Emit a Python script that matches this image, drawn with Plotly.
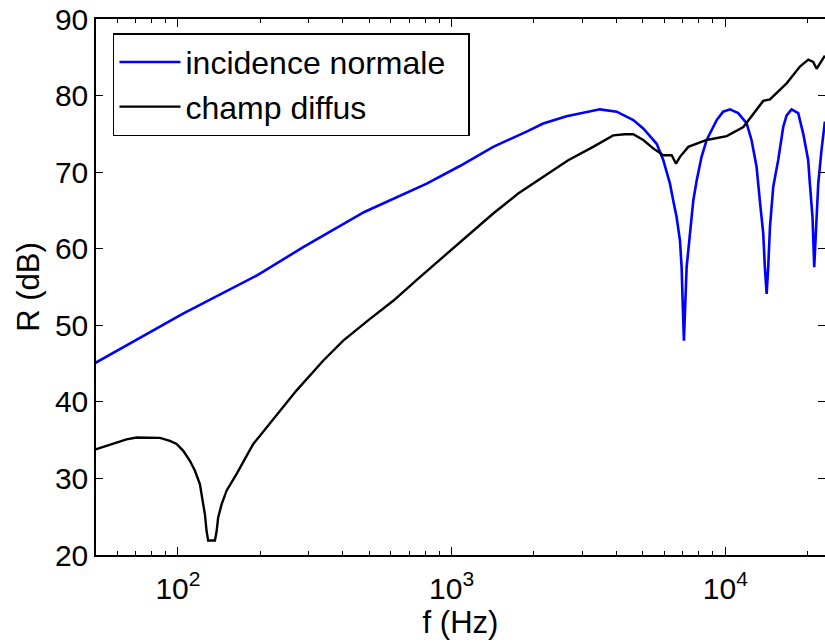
import plotly.graph_objects as go
import numpy as np

# incidence normale
f_norm = [50, 104, 194, 287, 480, 612, 811, 1072, 1419, 1879, 2161, 2630, 3484, 4010, 4612,
          5013, 5614, 5933, 6278, 6452, 6641, 6827, 6925, 6984, 7060, 7223, 7430, 7640, 7860,
          8190, 8550, 9300, 9820, 10400, 11140, 11960, 12470, 13010, 13370, 13760, 13950,
          14160, 14350, 14560, 14970, 15610, 16280, 16750, 17460, 18470, 19270, 20080, 20370,
          20830, 21130, 21540, 21860, 22470, 23120]
r_norm = [45.1, 51.5, 56.5, 60.2, 64.8, 66.5, 68.5, 70.8, 73.3, 75.3, 76.35, 77.3, 78.2, 77.9, 76.8,
          75.7, 73.7, 71.6, 68.5, 66.3, 64.1, 61.1, 57.6, 53.2, 48.0, 57.6, 62.0, 66.3, 68.9,
          72.0, 74.2, 76.8, 77.9, 78.2, 77.7, 76.4, 74.2, 70.7, 66.3, 62.0, 57.6,
          54.1, 57.6, 62.8, 68.1, 71.6, 75.9, 77.4, 78.2, 77.7, 75.0, 71.6, 68.5,
          64.1, 57.6, 64.1, 68.5, 72.9, 76.6]

# champ diffus
f_diff = [50, 54.9, 59.7, 64.9, 70.6, 77.9, 86, 93.5, 98.9, 104.6, 110.6, 115.4, 120.3, 123.1,
          125.5, 127.3, 129, 136.5, 138.5, 140.3, 144.4, 150.6, 163.9, 188.5, 210.9, 236, 271.5,
          340, 401.8, 502, 612, 755, 931, 1150, 1419, 1751, 2161, 2667, 3289, 3893, 4295, 4612,
          5015, 5453, 5934, 6370, 6607, 6830, 7324, 8550, 10120, 11640, 13760, 14560, 16750,
          18740, 20100, 20950, 21560, 22180, 23120]
r_diff = [33.8, 34.3, 34.7, 35.1, 35.35, 35.35, 35.3, 34.9, 34.5, 33.6, 32.3, 31.0, 29.25, 27.1,
          25.3, 23.1, 21.9, 21.9, 23.1, 24.9, 26.6, 28.4, 30.6, 34.5, 36.7, 38.8, 41.5,
          45.4, 48.0, 50.8, 53.2, 56.1, 58.9, 61.7, 64.6, 67.2, 69.4, 71.55, 73.3, 74.8, 74.95, 74.95,
          74.2, 73.1, 72.2, 72.2, 71.1, 72.0, 73.3, 74.2, 74.7, 75.9, 79.3, 79.5, 81.6,
          83.8, 84.7, 84.4, 83.5, 84.2, 85.2]

x_major = [100, 1000, 10000]
x_major_text = ["10<sup>2</sup>", "10<sup>3</sup>", "10<sup>4</sup>"]
x_minor = [60, 70, 80, 90, 200, 300, 400, 500, 600, 700, 800, 900,
           2000, 3000, 4000, 5000, 6000, 7000, 8000, 9000, 20000]
y_ticks = [20, 30, 40, 50, 60, 70, 80, 90]

FONT = "Liberation Sans, Arial, sans-serif"

fig = go.Figure()
fig.add_trace(go.Scatter(x=f_norm, y=r_norm, mode="lines", name="incidence normale\u00a0\u00a0",
                         line=dict(color="#0000FF", width=2.6)))
fig.add_trace(go.Scatter(x=f_diff, y=r_diff, mode="lines", name="champ diffus",
                         line=dict(color="#000000", width=2.4)))

fig.update_layout(
    width=825, height=642,
    margin=dict(l=96, r=0, t=19, b=87, autoexpand=False),
    paper_bgcolor="white", plot_bgcolor="white",
    font=dict(family=FONT, size=30, color="black"),
    showlegend=True,
    legend=dict(x=0.0233, y=0.9735, xanchor="left", yanchor="top",
                bgcolor="white", bordercolor="black", borderwidth=1.5,
                font=dict(size=32), itemwidth=61, tracegroupgap=0),
)
fig.update_xaxes(
    type="log", range=[np.log10(50.2), 4.3643],
    tickvals=x_major, ticktext=x_major_text,
    ticks="inside", ticklen=8, tickwidth=1.2, tickcolor="black",
    minor=dict(tickvals=x_minor, ticks="inside", ticklen=4, tickwidth=1, tickcolor="black"),
    showline=True, linecolor="black", linewidth=1.5, mirror="ticks",
    showgrid=False, zeroline=False,
    ticklabelstandoff=6,
    title=dict(text="f (Hz)", standoff=0, font=dict(size=31)),
    tickfont=dict(size=30),
)
fig.update_yaxes(
    range=[20, 90], tickvals=y_ticks,
    ticks="inside", ticklen=7, tickwidth=1.2, tickcolor="black",
    showline=True, linecolor="black", linewidth=1.5, mirror="ticks",
    showgrid=False, zeroline=False,
    title=dict(text="R (dB)", standoff=6, font=dict(size=31)),
    tickfont=dict(size=30),
)

fig.write_html(
    "out.html",
    config={"displayModeBar": False},
    post_script="document.body.style.margin='0';document.body.style.overflow='hidden';",
)
